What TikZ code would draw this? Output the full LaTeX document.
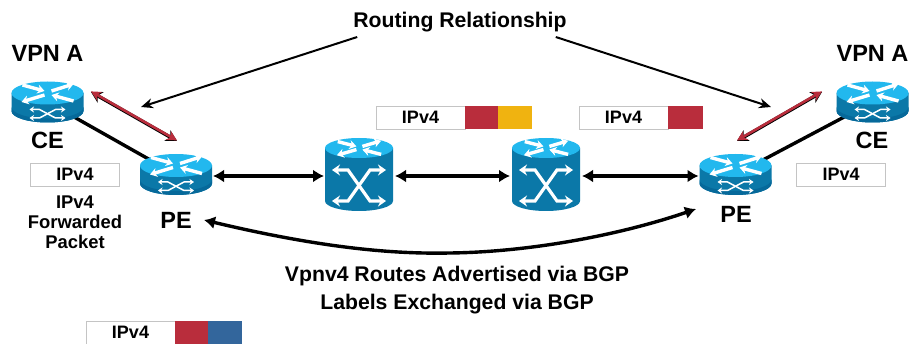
\documentclass[tikz,border=0pt]{standalone}
\usepackage{fontspec}
\setmainfont{Liberation Sans}
\usetikzlibrary{arrows.meta,backgrounds}
\definecolor{bodyc}{HTML}{0B78A8}
\definecolor{bodyd}{HTML}{06699A}
\definecolor{topc}{HTML}{22B8EE}
\definecolor{redc}{HTML}{B92D3C}
\definecolor{orangec}{HTML}{F0B310}
\definecolor{bluec}{HTML}{33669C}
\definecolor{boxc}{HTML}{C4C4C4}
\tikzset{
  lbl/.style={font=\bfseries\fontsize{21.2}{21.2}\selectfont,inner sep=0pt,align=center},
  big/.style={font=\bfseries\fontsize{23.5}{23.5}\selectfont,inner sep=0pt},
  hdr/.style={draw=boxc,line width=0.9pt,fill=white,minimum width=89pt,minimum height=23pt,inner sep=0pt,outer sep=0pt,font=\bfseries\fontsize{18}{18}\selectfont},
  redbox/.style={fill=redc,minimum width=33pt,minimum height=23.5pt,inner sep=0pt,outer sep=0pt},
  orangebox/.style={fill=orangec,minimum width=34pt,minimum height=23.5pt,inner sep=0pt,outer sep=0pt},
  bluebox/.style={fill=bluec,minimum width=34pt,minimum height=23.5pt,inner sep=0pt,outer sep=0pt},
  iconbox/.style={inner sep=0pt,outer sep=0pt},
  link/.style={line width=3.4pt,{Latex[length=11pt,width=13pt]}-{Latex[length=11pt,width=13pt]}},
  thinarrow/.style={line width=2pt,-{Stealth[length=12pt,width=10pt]}},
  whitearr/.style={white,line width=3.4pt,-{Stealth[length=7pt,width=9pt]}},
  whitedbl/.style={white,line width=1.5pt,{Stealth[length=4.5pt,width=6pt]}-{Stealth[length=4.5pt,width=6pt]}},
  atmdbl/.style={white,line width=3.2pt,{Stealth[length=8pt,width=11pt]}-{Stealth[length=8pt,width=11pt]},line join=miter},
}
\newcommand{\rtrmarks}[4]{%
  \begin{scope}[shift={(#1,#2)},xscale=#3,yscale=#4]
    \draw[whitearr] (-25,-8) -- (-3,-2);
    \draw[whitearr] (4,-2) -- (26,-9);
    \draw[whitearr] (-3,2) -- (-26,9);
    \draw[whitearr] (26,8) -- (4,2);
  \end{scope}}
\newcommand{\routericon}[3]{%
  \node[iconbox,minimum width=72pt,minimum height=41pt] (#1) at (#2,#3+9) {};
  \fill[bodyc] (#2-36,#3) -- (#2-36,#3+18) arc[start angle=180,end angle=360,x radius=36pt,y radius=11.5pt] -- (#2+36,#3) -- cycle;
  \fill[bodyd] (#2-36,#3+14) -- (#2-36,#3+18) arc[start angle=180,end angle=360,x radius=36pt,y radius=11.5pt] -- (#2+36,#3+14) arc[start angle=360,end angle=180,x radius=36pt,y radius=11.5pt] -- cycle;
  \fill[topc] (#2,#3) ellipse[x radius=36pt,y radius=11.5pt];
  \rtrmarks{#2}{#3}{1}{1}
  \draw[whitedbl] (#2-18,#3+16.5) -- (#2-8,#3+16.5) -- (#2+8,#3+25) -- (#2+18,#3+25);
  \draw[whitedbl] (#2-18,#3+25) -- (#2-8,#3+25) -- (#2+8,#3+16.5) -- (#2+18,#3+16.5);
}
\newcommand{\switchicon}[3]{%
  \node[iconbox,minimum width=68pt,minimum height=73pt] (#1) at (#2,#3+26.5) {};
  \fill[bodyc] (#2-34,#3) -- (#2-34,#3+53) arc[start angle=180,end angle=360,x radius=34pt,y radius=10pt] -- (#2+34,#3) -- cycle;
  \fill[topc] (#2,#3) ellipse[x radius=34pt,y radius=10pt];
  \rtrmarks{#2}{#3}{0.85}{0.8}
  \draw[atmdbl] (#2-27,#3+22) -- (#2-11,#3+22) -- (#2+11,#3+53) -- (#2+27,#3+53);
  \draw[atmdbl] (#2-27,#3+53) -- (#2-11,#3+53) -- (#2+11,#3+22) -- (#2+27,#3+22);
}
\begin{document}
\begin{tikzpicture}[x=1pt,y=-1pt]
\useasboundingbox (0,0) rectangle (909,344);
% icons
\routericon{cel}{47.5}{93}
\routericon{pel}{176}{165.5}
\routericon{per}{735.5}{165.5}
\routericon{cer}{872.5}{93}
\switchicon{atma}{359}{148}
\switchicon{atmb}{546}{148}
% backing links
\begin{scope}[on background layer]
  \draw[line width=3.4pt] (cel.center) -- (pel.center);
  \draw[line width=3.4pt] (cer.center) -- (per.center);
\end{scope}
% labels
\node[lbl] (rr) at (460,22) {Routing Relationship};
\node[big] (vpnl) at (47.5,53) {VPN A};
\node[big] (vpnr) at (872.5,53) {VPN A};
\node[big] (cetl) at (47.5,140) {CE};
\node[big] (cetr) at (872,140) {CE};
\node[big] (petl) at (176,220) {PE};
\node[big] (petr) at (736,214) {PE};
\node[hdr] (b1) at (75,174.5) {IPv4};
\node[hdr] (b2) at (841,174.5) {IPv4};
\node[lbl,font=\bfseries\fontsize{18.4}{20}\selectfont] (fp) at (75,222) {IPv4\\Forwarded\\Packet};
\node[lbl] (adv) at (457,276) {Vpnv4 Routes Advertised via BGP};
\node[lbl] (lab) at (457,304) {Labels Exchanged via BGP};
% label stacks
\node[hdr] (s1) at (420.5,117.5) {IPv4};
\node[redbox,anchor=west] (s1r) at (s1.east) {};
\node[orangebox,anchor=west] (s1o) at (s1r.east) {};
\node[hdr] (s2) at (623.5,117.5) {IPv4};
\node[redbox,minimum width=35pt,anchor=west] (s2r) at (s2.east) {};
\node[hdr] (s3) at (130.5,332.5) {IPv4};
\node[redbox,anchor=west] (s3r) at (s3.east) {};
\node[bluebox,anchor=west] (s3b) at (s3r.east) {};
% free ends
\coordinate (rl1) at (91,92);
\coordinate (rl2) at (177,141);
\coordinate (rr1) at (822,92);
\coordinate (rr2) at (737,141);
\coordinate (ta) at (141,107);
\coordinate (tb) at (771,107);
\coordinate (cv1) at (204,220);
\coordinate (cv2) at (696,209);
% links
\draw[link] ([xshift=1pt,yshift=-1.5pt]pel.east) -- ([xshift=-1pt,yshift=-1.5pt]atma.west);
\draw[link] ([xshift=2pt,yshift=-1.5pt]atma.east) -- ([xshift=-2pt,yshift=-1.5pt]atmb.west);
\draw[link] ([xshift=2pt,yshift=-1.5pt]atmb.east) -- ([xshift=-1pt,yshift=-1.5pt]per.west);
% routing relationship
\draw[thinarrow] ([xshift=4pt,yshift=-15pt]rr.west) -- (ta);
\draw[thinarrow] ([xshift=-11pt,yshift=-15pt]rr.east) -- (tb);
% peering
\draw[line width=3.4pt,{Stealth[length=11pt,width=12pt]}-{Stealth[length=11pt,width=12pt]}] (rl1) -- (rl2);
\draw[redc,line width=2.6pt,{Stealth[length=10pt,width=10pt]}-{Stealth[length=10pt,width=10pt]}] ([yshift=0.6pt]rl1) -- ([yshift=0.6pt]rl2);
\draw[line width=3.4pt,{Stealth[length=11pt,width=12pt]}-{Stealth[length=11pt,width=12pt]}] (rr1) -- (rr2);
\draw[redc,line width=2.6pt,{Stealth[length=10pt,width=10pt]}-{Stealth[length=10pt,width=10pt]}] ([yshift=0.6pt]rr1) -- ([yshift=0.6pt]rr2);
% BGP curve
\draw[link] (cv1) .. controls (330,250) and (400,254) .. (450,253) .. controls (530,252) and (620,235) .. (cv2);
\end{tikzpicture}
\end{document}
